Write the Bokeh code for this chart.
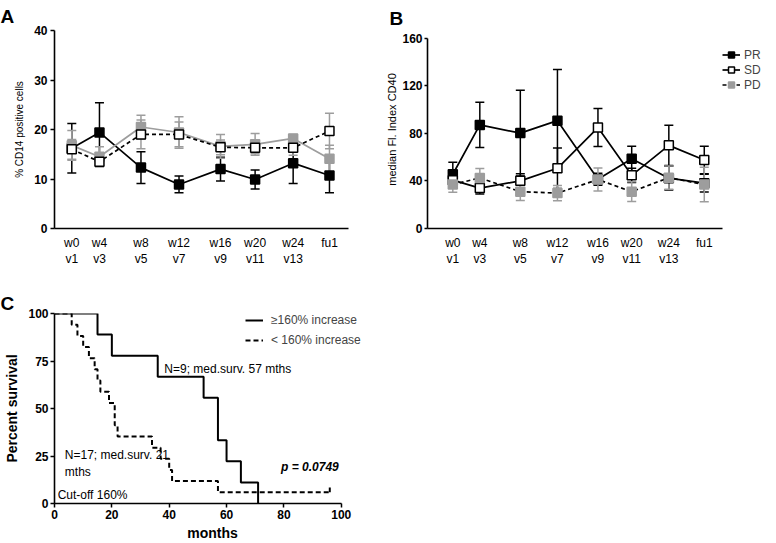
import numpy as np
from bokeh.plotting import figure
from bokeh.models import (ColumnDataSource, Whisker, TeeHead, Legend, LegendItem,
                          Label, FixedTicker, Range1d)
from bokeh.layouts import column, row
from bokeh.embed import file_html
from bokeh.resources import INLINE

FONT = "Liberation Sans"
GRAY = "#9d9d9d"

# ---------------- data ----------------
visit_labels = ["w0\nv1", "w4\nv3", "w8\nv5", "w12\nv7", "w16\nv9", "w20\nv11", "w24\nv13", "fu1"]
visit_pos = [0.5, 1.3, 2.5, 3.6, 4.8, 5.8, 6.9, 7.95]

# Panel A: % CD14 positive cells (mean +/- SEM)
cd14_pr = [16.2, 19.4, 12.3, 8.9, 12.0, 9.9, 13.2, 10.7]
cd14_pr_err = [5.0, 6.0, 3.2, 1.7, 2.4, 1.9, 4.1, 3.5]
cd14_sd = [16.0, 13.5, 19.0, 19.0, 16.4, 16.3, 16.3, 19.7]
cd14_sd_err = [2.0, 1.0, 2.9, 2.5, 1.5, 1.2, 1.5, 3.6]
cd14_pd = [16.8, 14.5, 20.5, 19.4, 16.6, 17.0, 18.2, 14.1]
cd14_pd_err = [3.0, 2.0, 2.4, 3.2, 2.4, 2.2, 0.8, 2.7]

# Panel B: median FI index CD40
cd40_pr = [45.7, 87.2, 80.3, 90.8, 41.5, 58.7, 42.4, 38.2]
cd40_pr_err = [10.0, 19.0, 36.0, 43.0, 5.0, 10.5, 10.0, 7.5]
cd40_sd = [40.7, 34.0, 40.1, 50.7, 85.0, 44.8, 70.0, 57.6]
cd40_sd_err = [4.0, 5.0, 6.0, 17.0, 16.0, 6.0, 17.0, 11.6]
cd40_pd = [37.0, 42.6, 31.0, 29.8, 41.2, 31.0, 42.8, 37.0]
cd40_pd_err = [6.5, 8.0, 7.5, 6.5, 9.7, 8.3, 9.8, 14.5]

# Panel C: Kaplan-Meier
km_hi_t = [0, 15, 20, 36, 52, 57, 60, 65, 71]
km_hi_s = [100, 88.9, 77.8, 66.7, 55.6, 33.3, 22.2, 11.1, 0]
km_lo_t = [0, 6, 8, 10, 12, 14, 15, 16, 19, 21, 22, 34, 37, 40, 41, 57, 96]
km_lo_s = [100, 94.1, 88.2, 82.4, 76.5, 70.6, 64.7, 58.8, 52.9, 41.2, 35.3, 29.4,
           23.5, 17.6, 11.8, 5.9, 5.9]
censor_t = [96]
censor_s = [5.9]

series_names = ["PR", "SD", "PD"]
km_names = ["\u2265160% increase", "< 160% increase"]


def style(p, tick_size="12px"):
    p.outline_line_color = None
    p.xgrid.visible = False
    p.ygrid.visible = False
    p.background_fill_color = "white"
    p.border_fill_color = "white"
    for ax in (p.xaxis[0], p.yaxis[0]):
        ax.axis_line_width = 1.6
        ax.axis_line_color = "black"
        ax.major_tick_line_width = 1.5
        ax.major_tick_line_color = "black"
        ax.major_tick_in = 0
        ax.major_tick_out = 4
        ax.minor_tick_line_color = None
        ax.major_label_text_font = FONT
        ax.major_label_text_color = "black"
        ax.major_label_text_font_size = tick_size
        ax.axis_label_text_font = FONT
        ax.axis_label_text_color = "black"
        ax.axis_label_text_font_style = "normal"


def panel_letter(p, letter, offset, standoff):
    p.title.text = letter
    p.title.align = "left"
    p.title.offset = offset
    p.title.standoff = standoff
    p.title.text_font = FONT
    p.title.text_font_size = "19px"
    p.title.text_font_style = "bold"
    p.title.text_color = "black"


def add_series(p, y, err, fill, line_color, dash, err_color):
    y = np.array(y, dtype=float)
    e = np.array(err, dtype=float)
    src = ColumnDataSource(dict(x=visit_pos, y=y, lo=y - e, hi=y + e))
    w = Whisker(source=src, base="x", upper="hi", lower="lo",
                line_color=err_color, line_width=1.5,
                upper_head=TeeHead(size=9, line_color=err_color, line_width=1.5),
                lower_head=TeeHead(size=9, line_color=err_color, line_width=1.5))
    p.add_layout(w)
    l = p.line("x", "y", source=src, line_color=line_color, line_width=1.7, line_dash=dash)
    s = p.scatter("x", "y", source=src, marker="square", size=9, fill_color=fill,
                  line_color=("black" if fill == "white" else fill), line_width=1.5)
    return l, s


def visit_axis(p, bounds):
    ax = p.xaxis[0]
    ax.ticker = FixedTicker(ticks=visit_pos)
    ax.major_label_overrides = {pos: lab for pos, lab in zip(visit_pos, visit_labels)}
    ax.major_tick_out = 0
    ax.major_label_standoff = 7
    ax.major_label_text_font_style = "normal"
    ax.major_label_text_font_size = "12px"
    ax.bounds = bounds


# ---------------- Panel A ----------------
pA = figure(width=383, height=290, x_range=Range1d(0, 8.5), y_range=Range1d(0, 40),
            output_backend="svg", toolbar_location=None,
            min_border_left=54, min_border_right=35, min_border_top=29, min_border_bottom=62)
style(pA)
panel_letter(pA, "A", -54, 7)
pA.yaxis[0].ticker = FixedTicker(ticks=[0, 10, 20, 30, 40])
pA.yaxis[0].major_label_text_font_style = "bold"
pA.yaxis[0].axis_label = "% CD14 positive cells"
pA.yaxis[0].axis_label_text_font_size = "10px"
pA.yaxis[0].axis_label_standoff = 6
pA.yaxis[0].major_label_standoff = 3
visit_axis(pA, (0, 8.5))
add_series(pA, cd14_pr, cd14_pr_err, "black", "black", "solid", "black")
add_series(pA, cd14_pd, cd14_pd_err, GRAY, GRAY, "solid", GRAY)
add_series(pA, cd14_sd, cd14_sd_err, "white", "black", "4 3", GRAY)

# ---------------- Panel B ----------------
# frame shares top/bottom with panel A (row alignment); range headroom puts 160 lower
pB = figure(width=393, height=290, x_range=Range1d(-0.25, 10.09), y_range=Range1d(0, 166.7),
            output_backend="svg", toolbar_location=None,
            min_border_left=40, min_border_right=0, min_border_top=29, min_border_bottom=62)
style(pB)
panel_letter(pB, "B", -38, 3)
pB.yaxis[0].ticker = FixedTicker(ticks=[0, 40, 80, 120, 160])
pB.yaxis[0].bounds = (0, 160)
pB.yaxis[0].major_label_text_font_style = "bold"
pB.yaxis[0].axis_label = "median Fl. Index CD40"
pB.yaxis[0].axis_label_text_font_size = "11px"
pB.yaxis[0].axis_label_standoff = 1
pB.yaxis[0].major_label_standoff = 2
pB.yaxis[0].major_tick_out = 3
visit_axis(pB, (-0.25, 8.5))
rPR = add_series(pB, cd40_pr, cd40_pr_err, "black", "black", "solid", "black")
rSD = add_series(pB, cd40_sd, cd40_sd_err, "white", "black", "solid", "black")
rPD = add_series(pB, cd40_pd, cd40_pd_err, GRAY, "black", "4 3", GRAY)
legB = Legend(items=[LegendItem(label=n, renderers=list(r)) for n, r in
                     zip(series_names, [rPR, rSD, rPD])],
              location=(295, 136), orientation="vertical",
              glyph_width=18, glyph_height=15, label_height=15, spacing=0,
              padding=0, margin=0, label_standoff=4,
              label_text_font=FONT, label_text_font_size="12px",
              border_line_color=None, background_fill_alpha=0)
pB.add_layout(legB)

# ---------------- Panel C ----------------
pC = figure(width=370, height=253, x_range=Range1d(0, 110.2), y_range=Range1d(0, 100),
            output_backend="svg", toolbar_location=None,
            min_border_left=54, min_border_right=0, min_border_top=21, min_border_bottom=38)
style(pC)
panel_letter(pC, "C", -54, 0)
pC.xaxis[0].ticker = FixedTicker(ticks=[0, 20, 40, 60, 80, 100])
pC.xaxis[0].bounds = (0, 100)
pC.yaxis[0].ticker = FixedTicker(ticks=[0, 25, 50, 75, 100])
for ax in (pC.xaxis[0], pC.yaxis[0]):
    ax.major_label_text_font_style = "bold"
    ax.axis_label_text_font_style = "bold"
    ax.axis_label_text_font_size = "14px"
    ax.major_label_standoff = 2
pC.xaxis[0].axis_label = "months"
pC.xaxis[0].axis_label_standoff = 3
pC.yaxis[0].axis_label = "Percent survival"
pC.yaxis[0].axis_label_standoff = 5

r_hi = pC.step(km_hi_t, km_hi_s, mode="after", line_color="black", line_width=2)
r_lo = pC.step(km_lo_t, km_lo_s, mode="after", line_color="black", line_width=2,
               line_dash="5 3")
pC.segment(x0=censor_t, y0=censor_s, x1=censor_t,
           y1=[s + 2.5 for s in censor_s], line_color="black", line_width=2)

legC = Legend(items=[LegendItem(label=km_names[0], renderers=[r_hi]),
                     LegendItem(label=km_names[1], renderers=[r_lo])],
              location=(191, 156), glyph_width=18, glyph_height=12, label_height=12,
              spacing=6, padding=0, margin=0, label_standoff=8,
              label_text_font=FONT, label_text_font_size="12px",
              border_line_color=None, background_fill_alpha=0)
pC.add_layout(legC)

for txt, x, y, fs in [("N=9; med.surv. 57 mths", 38.3, 70.9, "normal"),
                      ("N=17; med.surv. 21", 3.6, 25.3, "normal"),
                      ("mths", 3.6, 16.6, "normal"),
                      ("Cut-off 160%", 1.1, 4.3, "normal"),
                      ("p = 0.0749", 79, 19.1, "bold italic")]:
    pC.add_layout(Label(x=x, y=y, text=txt, text_font=FONT, text_font_size="12px",
                        text_font_style=fs, text_baseline="middle", text_color="black"))

layout = column(row(pA, pB), pC)
open("out.html", "w").write(file_html(layout, INLINE))
